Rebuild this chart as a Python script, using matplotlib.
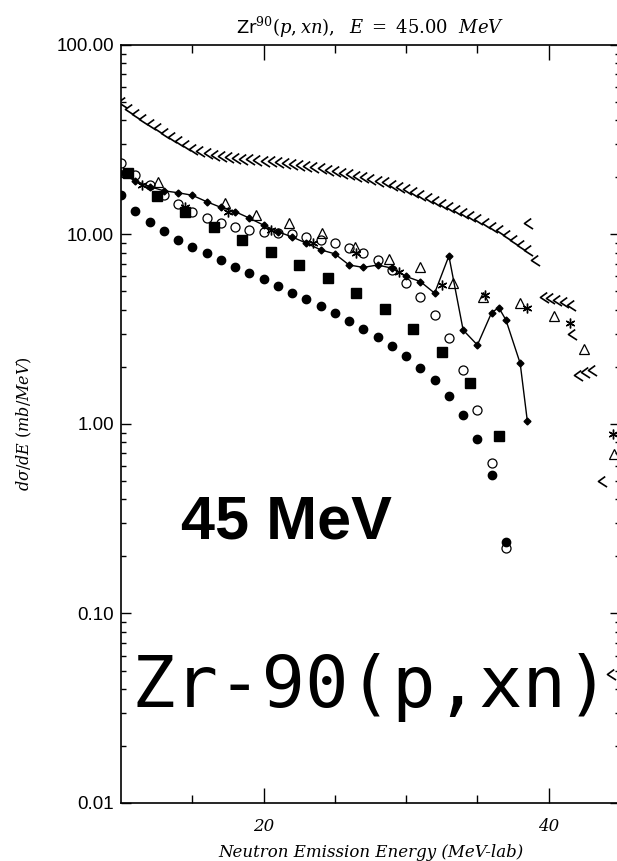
import numpy as np
import matplotlib.pyplot as plt
from matplotlib.path import Path
from matplotlib.ticker import FixedLocator, FuncFormatter, LogLocator, NullFormatter

plt.rcParams["mathtext.fontset"] = "custom"
plt.rcParams["mathtext.rm"] = "DejaVu Serif"
plt.rcParams["mathtext.it"] = "DejaVu Serif:italic"
plt.rcParams["mathtext.sf"] = "DejaVu Sans"

# Zr-90(p,xn) neutron emission spectra at 45 MeV (mb/MeV)
e_fork = [10.0, 10.5, 11.0, 11.5, 12.0, 12.5, 13.0, 13.5, 14.0, 14.5, 15.0, 15.5,
          16.0, 16.5, 17.0, 17.5, 18.0, 18.5, 19.0, 19.5, 20.0, 20.5, 21.0, 21.5,
          22.0, 22.5, 23.0, 23.5, 24.0, 24.5, 25.0, 25.5, 26.0, 26.5, 27.0, 27.5,
          28.0, 28.5, 29.0, 29.5, 30.0, 30.5, 31.0, 31.5, 32.0, 32.5, 33.0, 33.5,
          34.0, 34.5, 35.0, 35.5, 36.0, 36.5, 37.0, 37.5, 38.0, 38.5,
          38.5, 39.0, 39.6, 40.0, 40.5, 41.0, 41.5, 41.6, 42.0, 42.5, 43.0, 43.7, 44.3]
xs_fork = [50, 46, 43, 40.5, 38.5, 36.5, 34.5, 32.5, 31, 29.5, 28.3, 27.4,
           26.8, 26.3, 25.9, 25.6, 25.3, 25.1, 24.9, 24.7, 24.5, 24.3, 24.1, 23.8,
           23.5, 23.2, 22.9, 22.6, 22.3, 22.0, 21.6, 21.2, 20.8, 20.4, 20.0, 19.6,
           19.2, 18.8, 18.3, 17.8, 17.3, 16.8, 16.2, 15.6, 15.0, 14.5, 14.0, 13.5,
           13.0, 12.5, 12.0, 11.5, 11.0, 10.5, 9.9, 9.3, 8.8, 8.3,
           11.5, 7.3, 4.7, 4.6, 4.5, 4.4, 4.25, 3.0, 1.82, 1.87, 1.93, 0.5, 0.048]

e_int = list(range(10, 38))
xs_dot = [16.1, 13.3, 11.7, 10.4, 9.4, 8.6, 7.96, 7.3, 6.76, 6.24, 5.8, 5.35, 4.93, 4.55,
          4.2, 3.84, 3.5, 3.17, 2.89, 2.59, 2.28, 1.98, 1.71, 1.41, 1.12, 0.83, 0.54, 0.237]
xs_ring = [23.8, 20.6, 18.2, 16.2, 14.4, 13.2, 12.2, 11.5, 11.0, 10.6, 10.35, 10.2, 10.0, 9.7,
           9.35, 9.06, 8.45, 8.0, 7.3, 6.5, 5.53, 4.7, 3.76, 2.83, 1.93, 1.18, 0.62, 0.222]

e_square = [10.5, 12.5, 14.5, 16.5, 18.5, 20.5, 22.5, 24.5, 26.5, 28.5, 30.5, 32.5, 34.5, 36.5]
xs_square = [21, 16.0, 13.1, 10.9, 9.35, 8.1, 6.9, 5.87, 4.9, 4.03, 3.16, 2.41, 1.65, 0.865]

e_diam = [10, 11, 12, 13, 14, 15, 16, 17, 18, 19, 20, 21, 22, 23, 24, 25, 26, 27, 28,
          29, 30, 31, 32, 33, 34, 35, 36, 36.5, 37, 38, 38.5]
xs_diam = [21, 19.2, 17.9, 17.0, 16.6, 16.1, 14.9, 13.9, 13.2, 12.2, 11.2, 10.35, 9.7, 9.0,
           8.3, 7.9, 6.9, 6.7, 6.9, 6.64, 6.0, 5.64, 4.9, 7.7, 3.13, 2.61, 3.87, 4.11, 3.54,
           2.09, 1.04]

e_star = [11.5, 14.5, 17.5, 20.5, 23.5, 26.5, 29.5, 32.5, 35.5, 38.5, 41.5, 44.5]
xs_star = [18.2, 14.0, 13.2, 10.6, 9.0, 8.0, 6.37, 5.4, 4.8, 4.08, 3.4, 0.89]

e_tri = [12.6, 17.3, 19.5, 21.8, 24.1, 26.4, 28.8, 31.0, 33.3, 35.4, 38.0, 40.4, 42.5, 44.6]
xs_tri = [19.0, 14.6, 12.7, 11.5, 10.2, 8.6, 7.4, 6.7, 5.57, 4.67, 4.33, 3.72, 2.48, 0.69]

# open "<" with a longer lower stroke
fork = Path([(0.6, 0.8), (-0.5, 0.0), (0.9, -0.9)], [Path.MOVETO, Path.LINETO, Path.LINETO])

fig = plt.figure(figsize=(6.17, 8.61), dpi=100)
ax = fig.add_axes([0.1961, 0.0674, 0.8087, 0.8804])

ax.plot(e_fork, xs_fork, ls="none", marker=fork, ms=8, mfc="none", mec="black", mew=1.2)
ax.plot(e_int, xs_dot, ls="none", marker="o", ms=6, color="black")
ax.plot(e_int, xs_ring, ls="none", marker="o", ms=6.5, mfc="none", mec="black", mew=0.9)
ax.plot(e_square, xs_square, ls="none", marker="s", ms=7, color="black")
ax.plot(e_diam, xs_diam, "-", color="black", lw=1.0, marker="D", ms=3.5)
ax.plot(e_star, xs_star, ls="none", marker=(6, 2, 0), ms=7, mec="black", mew=1.0)
ax.plot(e_tri, xs_tri, ls="none", marker="^", ms=7, mfc="none", mec="black", mew=0.9)

ax.set_yscale("log")
ax.set_xlim(10, 45)
ax.set_ylim(0.01, 100)

ax.xaxis.set_major_locator(FixedLocator([20, 40]))
ax.xaxis.set_minor_locator(FixedLocator([15, 25, 30, 35, 45]))
ax.yaxis.set_major_locator(LogLocator(base=10, numticks=10))
ax.yaxis.set_minor_locator(LogLocator(base=10, subs=np.arange(2, 10), numticks=10))
ax.yaxis.set_major_formatter(FuncFormatter(lambda v, _: f"{v:.2f}"))
ax.yaxis.set_minor_formatter(NullFormatter())

ax.tick_params(axis="both", which="both", direction="in", top=True, right=True,
               width=1.0, color="black")
ax.tick_params(axis="x", which="major", length=11, pad=11)
ax.tick_params(axis="x", which="minor", length=6)
ax.tick_params(axis="y", which="major", length=7, pad=5)
ax.tick_params(axis="y", which="minor", length=3.5)
for lab in ax.get_yticklabels():
    lab.set_family("Liberation Sans")
    lab.set_fontsize(13.5)
for lab in ax.get_xticklabels():
    lab.set_family("DejaVu Serif")
    lab.set_style("italic")
    lab.set_fontsize(12)
for sp in ax.spines.values():
    sp.set_linewidth(1.2)

ax.set_xlabel("Neutron Emission Energy (MeV-lab)", family="DejaVu Serif",
              style="italic", fontsize=12, labelpad=6)
ax.set_ylabel(r"$d\sigma/dE\ (mb/MeV)$", fontsize=11.5, labelpad=16)
fig.text(0.6, 1 - 27 / 861, r"$\mathsf{Zr}^{\mathit{90}}(p,xn),\ \ E\ =\ \mathit{45.00}\ \ MeV$",
         ha="center", va="center", fontsize=13)

ax.text(14.2, 0.30, "45 MeV", family="Liberation Sans", weight="bold", fontsize=44,
        ha="left", va="center")
ax.text(0.022, 0.152, "Zr-90(p,xn)", transform=ax.transAxes, family="DejaVu Sans Mono",
        fontsize=52, ha="left", va="center")

fig.savefig("out.png", dpi=100)
